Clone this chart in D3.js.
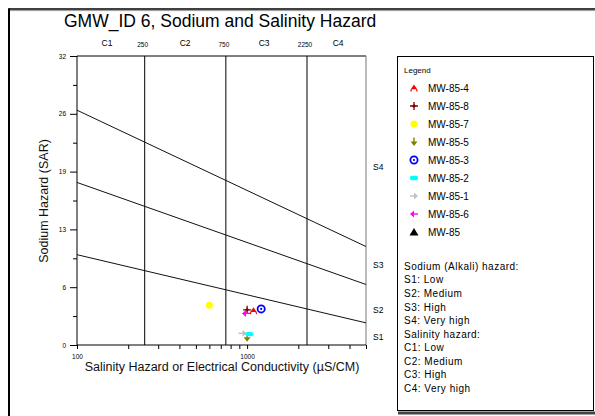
<!DOCTYPE html>
<html><head><meta charset="utf-8">
<script src="https://cdn.jsdelivr.net/npm/d3@7"></script>
<style>body{margin:0;background:#fff;} svg{display:block;font-family:"Liberation Sans",Arial,sans-serif;}</style>
</head><body><svg id="c" width="595" height="416"></svg>
<script>
// ---- data ----
const samples = ["MW-85-4","MW-85-8","MW-85-7","MW-85-5","MW-85-3","MW-85-2","MW-85-1","MW-85-6","MW-85"];
const ecValues = [1090, 1000, 600, 1000, 1210, 1030, 940, 985, null];
const sarValues = [3.8, 3.9, 4.4, 0.8, 4.0, 1.2, 1.3, 3.5, null];
const yTickValues = [0, 3.2, 6.4, 9.6, 12.8, 16, 19.2, 22.4, 25.6, 28.8, 32];
const yTickLabels = ["0", "", "6", "", "13", "", "19", "", "26", "", "32"];
const xTickValues = [100,200,300,400,500,600,700,800,900,1000,2000,3000,4000,5000];
const xTickLabels = {100: "100", 1000: "1000"};
const salinityBounds = [250, 750, 2250];
const salinityClasses = ["C1","C2","C3","C4"];
const salinityClassPos = [150, 432, 1260, 3430];
const sodiumLines = [[[100,26.0],[5000,10.9]], [[100,18.0],[5000,6.7]], [[100,10.0],[5000,2.45]]];
const sodiumClasses = ["S4","S3","S2","S1"];
const sodiumClassPos = [19.7, 8.9, 3.9, 0.9];
const sodiumNotes = ["Sodium (Alkali) hazard:","S1: Low","S2: Medium","S3: High","S4: Very high"];
const salinityNotes = ["Salinity hazard:","C1: Low","C2: Medium","C3: High","C4: Very high"];
const colors = ["#FF0000","#800000","#FFFF00","#808000","#0000FF","#00FFFF","#C0C0C0","#FF00FF","#000000"];

const svg = d3.select("#c");
const W = 595, H = 416;
const x = d3.scaleLog().domain([100, 5000]).range([77, 366]);
const y = d3.scaleLinear().domain([0, 32]).range([345, 56]);

// outer frame
svg.append("line").attr("x1",9).attr("x2",W).attr("y1",9).attr("y2",9).attr("stroke","#000").attr("stroke-width",1.6);
svg.append("line").attr("x1",10).attr("x2",W).attr("y1",10.6).attr("y2",10.6).attr("stroke","#999").attr("stroke-width",1);
svg.append("line").attr("x1",9).attr("x2",9).attr("y1",8.2).attr("y2",H).attr("stroke","#000").attr("stroke-width",2);

// title
svg.append("text").attr("x",64).attr("y",27).attr("font-size",17.5).text("GMW_ID 6, Sodium and Salinity Hazard");

// plot frame
svg.append("line").attr("x1",x(100)).attr("x2",x(5000)).attr("y1",y(32)).attr("y2",y(32)).attr("stroke","#000");
svg.append("line").attr("x1",x(5000)).attr("x2",x(5000)).attr("y1",y(32)).attr("y2",y(0)).attr("stroke","#777");

// salinity boundaries
svg.selectAll(".sb").data(salinityBounds).enter().append("line")
  .attr("x1",d=>x(d)).attr("x2",d=>x(d)).attr("y1",y(32)).attr("y2",y(0)).attr("stroke","#000");
svg.selectAll(".sbl").data(salinityBounds).enter().append("text")
  .attr("x",d=>x(d)-2).attr("y",47).attr("text-anchor","middle").attr("font-size",6.5).text(d=>d);
svg.selectAll(".scl").data(salinityClasses).enter().append("text")
  .attr("x",(d,i)=>x(salinityClassPos[i])).attr("y",46).attr("text-anchor","middle").attr("font-size",8.5).text(d=>d);

// sodium boundaries
const lineGen = d3.line().x(d=>x(d[0])).y(d=>y(d[1]));
svg.selectAll(".sl").data(sodiumLines).enter().append("path")
  .attr("d",lineGen).attr("fill","none").attr("stroke","#111").attr("stroke-width",1);
svg.selectAll(".scls").data(sodiumClasses).enter().append("text")
  .attr("x",373).attr("y",(d,i)=>y(sodiumClassPos[i])+3).attr("font-size",8.5).text(d=>d);

// axes
const yAxis = svg.append("g").attr("transform",`translate(${x(100)},0)`)
  .call(d3.axisLeft(y).tickValues(yTickValues).tickSize(7).tickPadding(4).tickFormat((d,i)=>yTickLabels[i]));
yAxis.selectAll(".tick line").attr("x2",(d,i)=> yTickLabels[i] === "" ? -4 : -7);
const xAxis = svg.append("g").attr("transform",`translate(0,${y(0)})`)
  .call(d3.axisBottom(x).tickValues(xTickValues).tickSize(4).tickPadding(5).tickFormat(d=>xTickLabels[d]||""));
[yAxis, xAxis].forEach(a=>{
  a.select(".domain").attr("stroke","#000");
  a.selectAll(".tick line").attr("stroke","#000");
  a.selectAll(".tick text").attr("font-size",6.5).attr("font-family","'Liberation Sans',Arial,sans-serif").attr("fill","#000");
});
xAxis.select(".domain").attr("d",`M${x(100)},0H${x(5000)}`);
yAxis.select(".domain").attr("d",`M0,${y(32)}V${y(0)}`);

// axis titles
svg.append("text").attr("x",222).attr("y",371).attr("text-anchor","middle").attr("font-size",12.5).attr("fill","#111")
  .text("Salinity Hazard or Electrical Conductivity (\u00B5S/CM)");
svg.append("text").attr("transform","translate(48,201) rotate(-90)").attr("text-anchor","middle").attr("font-size",12.5).attr("fill","#111")
  .text("Sodium Hazard (SAR)");

// symbols
function drawSymbol(g, i) {
  const c = colors[i];
  switch (i) {
    case 0: // red roof/triangle marker
      g.append("path").attr("d","M0,-3.5L3.2,1.2L-3.2,1.2Z").attr("fill",c);
      g.append("path").attr("d","M-2.5,1.2L-3.2,3.5M2.5,1.2L3.2,3.5").attr("stroke",c).attr("stroke-width",1.2);
      break;
    case 1: // dark red star
      g.append("path").attr("d","M-4,0H4M0,-4V4").attr("stroke",c).attr("stroke-width",1.3);
      g.append("path").attr("d","M0,-2L2,0L0,2L-2,0Z").attr("fill",c);
      break;
    case 2:
      g.append("circle").attr("r",3.5).attr("fill",c);
      break;
    case 3: // olive down arrow
      g.append("path").attr("d","M-3.5,-0.5L3.5,-0.5L0,4Z").attr("fill",c);
      g.append("path").attr("d","M0,-4.5V0").attr("stroke",c).attr("stroke-width",1.4);
      break;
    case 4: // blue ring
      g.append("circle").attr("r",3.6).attr("fill","#fff").attr("stroke",c).attr("stroke-width",1.8);
      g.append("circle").attr("r",1.1).attr("fill",c);
      break;
    case 5: // cyan pill
      g.append("rect").attr("x",-4).attr("y",-2.2).attr("width",8).attr("height",4.4).attr("rx",1.8).attr("fill",c);
      break;
    case 6: // grey right arrow
      g.append("path").attr("d","M0,-3.5L4,0L0,3.5Z").attr("fill",c);
      g.append("path").attr("d","M-4,0H1").attr("stroke",c).attr("stroke-width",1.4);
      break;
    case 7: // magenta left arrow
      g.append("path").attr("d","M0,-3.5L-4,0L0,3.5Z").attr("fill",c);
      g.append("path").attr("d","M-1,0H4").attr("stroke",c).attr("stroke-width",1.4);
      break;
    default:
      g.append("path").attr("d","M0,-4L4.5,3.5L-4.5,3.5Z").attr("fill",c);
  }
}

// points
samples.forEach((s, i) => {
  if (ecValues[i] == null || sarValues[i] == null) return;
  const g = svg.append("g").attr("transform",`translate(${x(ecValues[i])},${y(sarValues[i])})`);
  drawSymbol(g, i);
});

// legend box
svg.append("rect").attr("x",397.5).attr("y",56.5).attr("width",196).attr("height",354).attr("fill","#fff").attr("stroke","#000");
svg.append("line").attr("x1",398).attr("x2",W).attr("y1",413).attr("y2",413).attr("stroke","#444").attr("stroke-width",3);
svg.append("text").attr("x",404).attr("y",73).attr("font-size",8).text("Legend");
samples.forEach((s, i) => {
  const cy = 88 + i * 18;
  const g = svg.append("g").attr("transform",`translate(414,${cy})`);
  drawSymbol(g, i);
  svg.append("text").attr("x",428).attr("y",cy + 3.6).attr("font-size",10).text(s);
});
sodiumNotes.forEach((t, i) => {
  svg.append("text").attr("x",404).attr("y",269.5 + i * 13.7).attr("font-size",10).attr("letter-spacing",0.5).text(t);
});
salinityNotes.forEach((t, i) => {
  svg.append("text").attr("x",404).attr("y",337.5 + i * 13.5).attr("font-size",10).attr("letter-spacing",0.5).text(t);
});
</script></body></html>
